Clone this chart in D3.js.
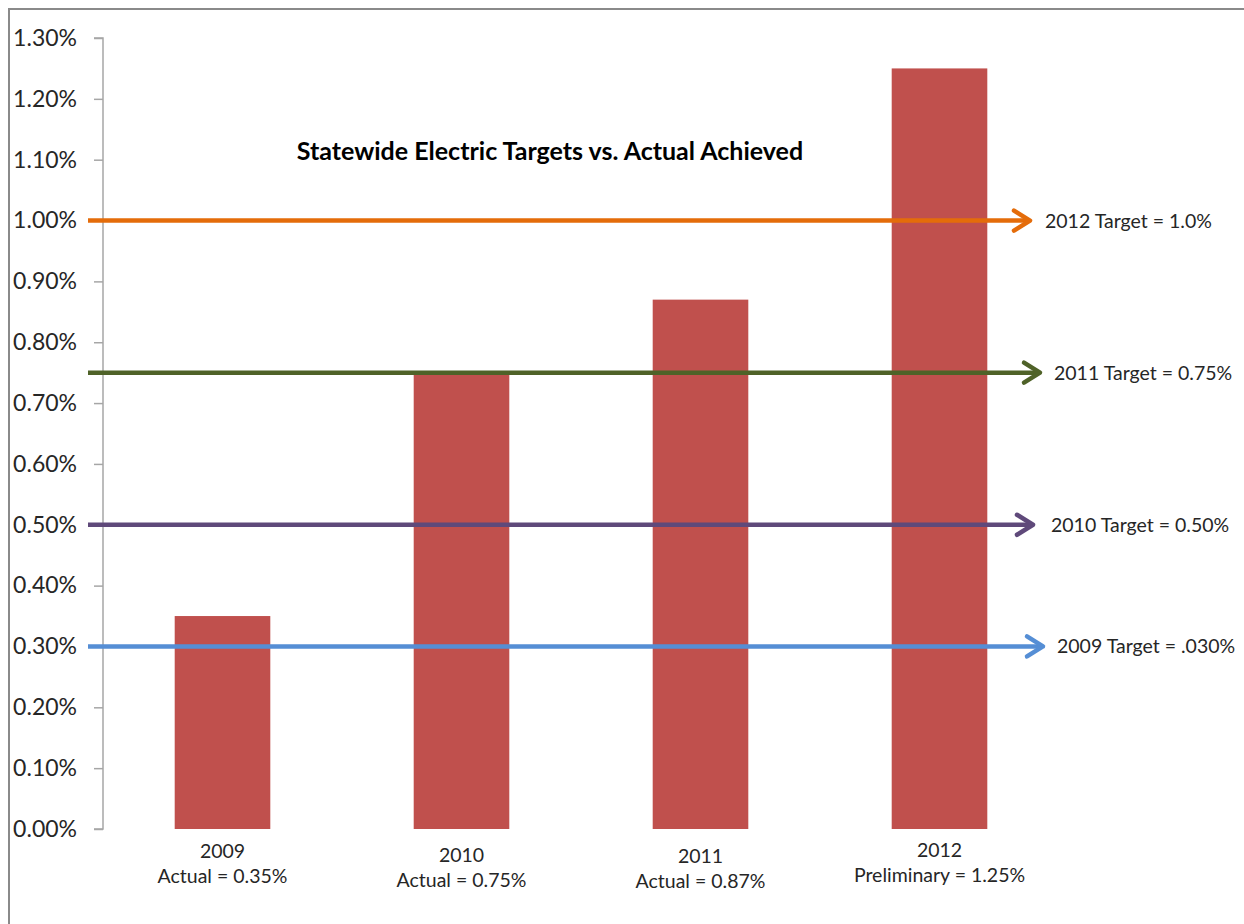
<!DOCTYPE html>
<html><head><meta charset="utf-8">
<script src="https://cdn.jsdelivr.net/npm/d3@7"></script>
<style>html,body{margin:0;padding:0;background:#fff;} svg{display:block;font-family:Lato,"Open Sans",sans-serif;}</style>
</head><body>
<svg id="c" width="1244" height="924"></svg>
<script>
const categories = ["2009","2010","2011","2012"];
const subLabels = ["Actual = 0.35%","Actual = 0.75%","Actual = 0.87%","Preliminary = 1.25%"];
const actualValues = [0.35, 0.75, 0.87, 1.25];
const targetValues = [0.30, 0.50, 0.75, 1.00];
const targetLabels = ["2009 Target = .030%","2010 Target = 0.50%","2011 Target = 0.75%","2012 Target = 1.0%"];
const targetColors = ["#558ED5","#5F497A","#4F6228","#E46C0A"];
const yTicks = [0,0.1,0.2,0.3,0.4,0.5,0.6,0.7,0.8,0.9,1.0,1.1,1.2,1.3];
const title = "Statewide Electric Targets vs. Actual Achieved";

(function(){
const svg = d3.select("#c");
svg.append("rect").attr("x",9).attr("y",9).attr("width",1260).attr("height",940)
  .attr("fill","none").attr("stroke","#8a8a8a").attr("stroke-width",2);

const mLeft = 103, mRight = 1059, mTop = 38, mBottom = 829;
const x = d3.scaleBand().domain(categories).range([mLeft,mRight]).paddingInner(0.6).paddingOuter(0.3);
const y = d3.scaleLinear().domain([0,1.3]).range([mBottom,mTop]);

svg.selectAll("rect.bar").data(actualValues).join("rect").attr("class","bar")
  .attr("x",(d,i)=>x(categories[i])).attr("width",x.bandwidth())
  .attr("y",d=>y(d)).attr("height",d=>y(0)-y(d)).attr("fill","#C0504D");

const yAxis = d3.axisLeft(y).tickValues(yTicks).tickSize(9).tickPadding(17)
  .tickFormat(d=>d3.format(".2f")(d)+"%");
const ga = svg.append("g").attr("transform",`translate(${mLeft},0)`).call(yAxis);
ga.select(".domain").attr("stroke","#a6a6a6").attr("stroke-width",1.5).attr("d",`M-9,${mTop}H0V${mBottom}H-9`);
ga.selectAll(".tick line").attr("stroke","#a6a6a6").attr("stroke-width",1.5);
ga.selectAll(".tick text").attr("fill","#262626").style("font-size","23px").style("font-family","Lato,'Open Sans',sans-serif");

const xl = svg.append("g");
const dy = [0,4,5,-1];
categories.forEach((c,i)=>{
  const cx = x(c)+x.bandwidth()/2;
  xl.append("text").attr("x",cx).attr("y",858+dy[i]).attr("text-anchor","middle")
    .attr("fill","#262626").style("font-size","19.5px").text(c);
  xl.append("text").attr("x",cx).attr("y",883+dy[i]).attr("text-anchor","middle")
    .attr("fill","#262626").style("font-size","19.5px").text(subLabels[i]);
});

svg.append("text").attr("x",550).attr("y",160).attr("text-anchor","middle")
  .style("font-size","25px").style("font-weight","bold").attr("fill","#000").text(title);

const tipX = [1043,1033,1040,1030];
const labelX = [1057,1051,1054,1045];
targetValues.forEach((v,i)=>{
  const yy = y(v);
  const g = svg.append("g");
  g.append("line").attr("x1",88).attr("x2",tipX[i]-2).attr("y1",yy).attr("y2",yy)
    .attr("stroke",targetColors[i]).attr("stroke-width",4.5);
  g.append("path").attr("d",`M${tipX[i]-16},${yy-10}L${tipX[i]},${yy}L${tipX[i]-16},${yy+10}`)
    .attr("fill","none").attr("stroke",targetColors[i]).attr("stroke-width",4.5)
    .attr("stroke-linecap","round").attr("stroke-linejoin","round");
  g.append("text").attr("x",labelX[i]).attr("y",yy+7).attr("fill","#262626")
    .style("font-size","19.5px").text(targetLabels[i]);
});
})();
</script>
</body></html>
